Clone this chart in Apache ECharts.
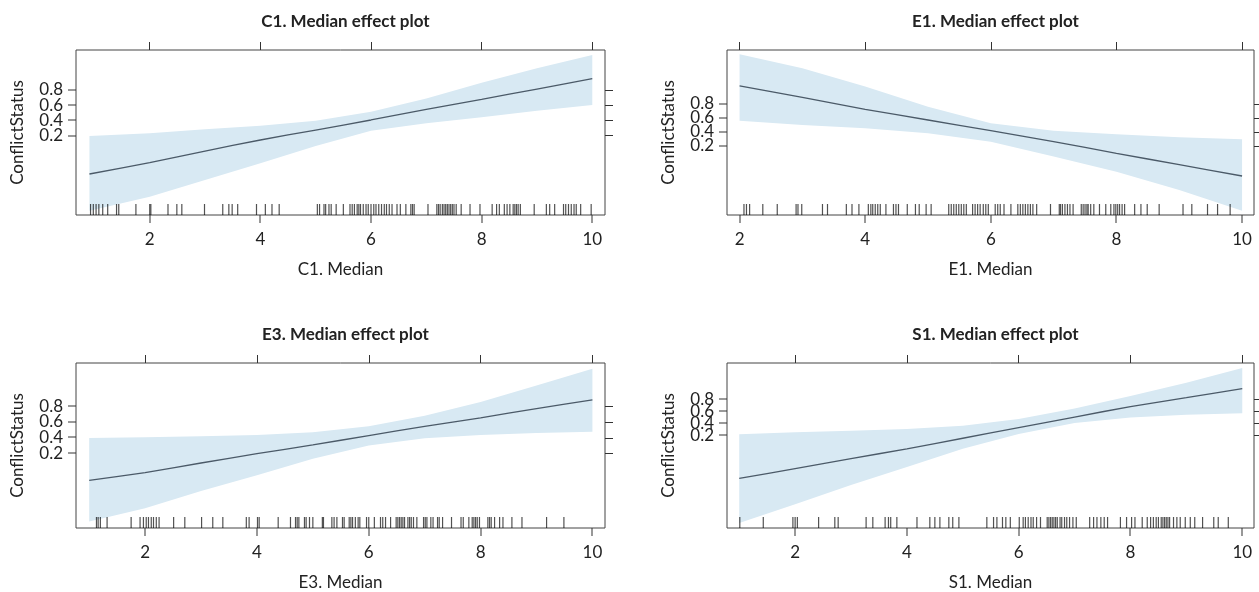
<!DOCTYPE html>
<html>
<head>
<meta charset="utf-8">
<script src="https://cdn.jsdelivr.net/npm/echarts@6/dist/echarts.min.js"></script>
<style>
  html, body { margin: 0; padding: 0; background: #fff; }
  #chart { width: 1259px; height: 592px; }
</style>
</head>
<body>
<div id="chart"></div>
<script>
// tick values shared by all four effect panels
const xTicks = [2, 4, 6, 8, 10];
const yTicks = [0.2, 0.4, 0.6, 0.8];

// C1. Median
const c1X = [0.91, 2, 3, 4, 5, 6, 7, 8, 9, 10];
const c1Fit = [-0.304, -0.155, -0.002, 0.143, 0.274, 0.406, 0.546, 0.677, 0.813, 0.949];
const c1Lower = [-0.786, -0.602, -0.383, -0.164, 0.064, 0.266, 0.362, 0.441, 0.528, 0.603];
const c1Upper = [0.196, 0.231, 0.283, 0.331, 0.397, 0.515, 0.69, 0.896, 1.085, 1.26];
const c1Rug = [0.93, 0.98, 1.03, 1.08, 1.15, 1.24, 1.40, 1.44, 1.75, 2.0, 2.02, 2.33, 2.49, 2.58, 2.99,
  3.32, 3.43, 3.49, 3.59, 3.93, 4.09, 4.21, 4.34, 5.03, 5.07, 5.15, 5.18, 5.24, 5.28, 5.37, 5.5,
  5.62, 5.66, 5.7, 5.75, 5.78, 5.81, 5.86, 5.91, 5.95, 6.0, 6.05, 6.09, 6.14, 6.19, 6.24, 6.28,
  6.33, 6.38, 6.47, 6.53, 6.63, 6.72, 6.75, 6.78, 7.03, 7.19, 7.22, 7.25, 7.29, 7.32, 7.35, 7.38,
  7.41, 7.44, 7.47, 7.5, 7.54, 7.63, 7.79, 7.97, 8.19, 8.27, 8.32, 8.41, 8.46, 8.51, 8.57, 8.6,
  8.63, 8.66, 8.7, 8.95, 9.17, 9.23, 9.32, 9.48, 9.52, 9.57, 9.62, 9.67, 9.71, 9.79, 9.98];

// E1. Median
const e1X = [2, 3, 4, 5, 6, 7, 8, 9, 10];
const e1Fit = [1.057, 0.895, 0.724, 0.571, 0.419, 0.262, 0.095, -0.067, -0.229];
const e1Lower = [0.562, 0.5, 0.452, 0.381, 0.262, 0.048, -0.167, -0.429, -0.724];
const e1Upper = [1.51, 1.31, 1.048, 0.762, 0.524, 0.419, 0.367, 0.324, 0.295];
const e1Rug = [2.07, 2.11, 2.16, 2.37, 2.6, 2.9, 2.93, 2.99, 3.32, 3.4, 3.7, 3.79, 3.9, 4.05, 4.09,
  4.12, 4.16, 4.2, 4.24, 4.33, 4.45, 4.49, 4.53, 4.67, 4.8, 4.86, 4.97, 5.05, 5.33, 5.37, 5.41,
  5.45, 5.49, 5.53, 5.57, 5.61, 5.71, 5.75, 5.79, 5.83, 5.88, 5.92, 5.96, 6.07, 6.11, 6.15, 6.21,
  6.32, 6.43, 6.47, 6.51, 6.55, 6.59, 6.63, 6.67, 6.73, 6.95, 7.09, 7.11, 7.14, 7.18, 7.22, 7.26,
  7.31, 7.44, 7.47, 7.5, 7.53, 7.55, 7.59, 7.64, 7.73, 7.83, 7.91, 7.96, 7.99, 8.02, 8.05, 8.09,
  8.13, 8.29, 8.39, 8.49, 8.68, 9.06, 9.2, 9.45, 9.61, 9.81];

// E3. Median
const e3X = [1.0, 2, 3, 4, 5, 6, 7, 8, 9, 10];
const e3Fit = [-0.148, -0.048, 0.074, 0.192, 0.305, 0.422, 0.54, 0.649, 0.766, 0.876];
const e3Lower = [-0.669, -0.501, -0.283, -0.081, 0.129, 0.296, 0.389, 0.431, 0.456, 0.473];
const e3Upper = [0.393, 0.401, 0.414, 0.431, 0.464, 0.54, 0.674, 0.85, 1.06, 1.274];
const e3Rug = [1.13, 1.16, 1.2, 1.32, 1.75, 1.91, 1.97, 2.02, 2.06, 2.11, 2.15, 2.2, 2.25, 2.51, 2.71,
  3.01, 3.21, 3.39, 3.81, 3.86, 4.01, 4.04, 4.38, 4.6, 4.69, 4.72, 4.75, 4.85, 4.88, 4.94, 5.0,
  5.17, 5.19, 5.34, 5.38, 5.43, 5.53, 5.56, 5.65, 5.68, 5.71, 5.76, 5.81, 5.84, 5.96, 6.0, 6.1,
  6.21, 6.25, 6.3, 6.39, 6.49, 6.52, 6.55, 6.58, 6.61, 6.64, 6.7, 6.73, 6.76, 6.8, 6.86, 6.98,
  7.01, 7.04, 7.11, 7.15, 7.23, 7.26, 7.32, 7.48, 7.65, 7.69, 7.79, 7.85, 7.88, 7.91, 7.94, 7.98,
  8.13, 8.16, 8.19, 8.25, 8.34, 8.4, 8.56, 8.74, 9.18, 9.49];

// S1. Median
const s1X = [1.0, 2, 3, 4, 5, 6, 7, 8, 9, 10];
const s1Fit = [-0.533, -0.367, -0.2, -0.033, 0.144, 0.322, 0.5, 0.678, 0.828, 0.978];
const s1Lower = [-1.283, -0.967, -0.644, -0.339, -0.033, 0.217, 0.4, 0.494, 0.539, 0.567];
const s1Upper = [0.211, 0.244, 0.272, 0.3, 0.356, 0.467, 0.644, 0.856, 1.078, 1.328];
const s1Rug = [1.01, 1.43, 1.96, 2.0, 2.04, 2.42, 2.71, 2.77, 3.27, 3.39, 3.61, 3.67, 3.71, 3.82, 4.18,
  4.41, 4.5, 4.59, 4.75, 4.82, 4.93, 5.43, 5.55, 5.61, 5.71, 5.77, 5.85, 6.01, 6.08, 6.12, 6.17,
  6.22, 6.26, 6.32, 6.39, 6.51, 6.54, 6.57, 6.6, 6.63, 6.66, 6.69, 6.74, 6.77, 6.82, 6.86, 6.91,
  6.97, 7.03, 7.27, 7.34, 7.4, 7.47, 7.53, 7.59, 7.82, 7.93, 8.02, 8.08, 8.21, 8.3, 8.36, 8.41,
  8.46, 8.5, 8.55, 8.58, 8.61, 8.64, 8.67, 8.7, 8.77, 8.83, 8.89, 8.98, 9.07, 9.15, 9.29, 9.49,
  9.57, 9.75];

const panels = [
  { title: 'C1. Median effect plot', xName: 'C1. Median', x: c1X, fit: c1Fit, lower: c1Lower, upper: c1Upper, rug: c1Rug,
    box: { left: 76, top: 50, width: 529, height: 165 }, xRange: [0.667, 10.23], yRange: [-0.843, 1.326] },
  { title: 'E1. Median effect plot', xName: 'E1. Median', x: e1X, fit: e1Fit, lower: e1Lower, upper: e1Upper, rug: e1Rug,
    box: { left: 727, top: 50, width: 527, height: 165 }, xRange: [1.8, 10.19], yRange: [-0.786, 1.571] },
  { title: 'E3. Median effect plot', xName: 'E3. Median', x: e3X, fit: e3Fit, lower: e3Lower, upper: e3Upper, rug: e3Rug,
    box: { left: 76, top: 363, width: 529, height: 166 }, xRange: [0.764, 10.225], yRange: [-0.753, 1.346] },
  { title: 'S1. Median effect plot', xName: 'S1. Median', x: s1X, fit: s1Fit, lower: s1Lower, upper: s1Upper, rug: s1Rug,
    box: { left: 727, top: 363, width: 527, height: 166 }, xRange: [0.781, 10.21], yRange: [-1.367, 1.411] }
];

const FONT = 'Lato';
const textColor = '#222';
const TICK = 8;
const tickColor = '#333';
const tickStyle = { color: tickColor, width: 1 };
const label17 = { fontFamily: FONT, fontSize: 17, color: textColor };

const grids = [], xAxes = [], yAxes = [], series = [], titles = [];
const mainGrids = [];

// every grid gets exactly one x and one y axis
function addGrid(rect, show, xOpt, yOpt, xRange, yRange) {
  const g = grids.length;
  grids.push(Object.assign({ show: show, borderColor: '#444', borderWidth: 1, containLabel: false }, rect));
  const base = () => ({ gridIndex: g, type: 'value', axisLine: { show: false, onZero: false },
    splitLine: { show: false }, axisTick: { show: false }, axisLabel: { show: false } });
  xAxes.push(Object.assign(base(), { min: xRange[0], max: xRange[1] }, xOpt));
  yAxes.push(Object.assign(base(), { min: yRange[0], max: yRange[1] }, yOpt));
  return g;
}
const ticks = vals => ({ show: true, length: TICK, customValues: vals, lineStyle: tickStyle });

panels.forEach(p => {
  const b = p.box;
  titles.push({
    text: p.title,
    left: b.left + b.width / 2,
    top: b.top - 42,
    textAlign: 'center',
    textStyle: Object.assign({}, label17, { fontWeight: 'bold' })
  });

  // main panel: data, bottom labels + name, y name
  const g = addGrid(b, true,
    { position: 'bottom',
      axisLabel: Object.assign({ customValues: xTicks, margin: 16 }, label17),
      name: p.xName, nameLocation: 'middle', nameGap: 46, nameTextStyle: label17 },
    { position: 'left',
      name: 'ConflictStatus', nameLocation: 'middle', nameRotate: 90, nameGap: 50, nameTextStyle: label17 },
    p.xRange, p.yRange);
  mainGrids.push(g);
  // top and right tick marks on the same box
  addGrid(b, false, { position: 'top', axisTick: ticks(xTicks) },
    { position: 'right', axisTick: ticks(yTicks) }, p.xRange, p.yRange);
  // one y label per grid so none of them gets dropped as overlapping
  yTicks.forEach(t => {
    addGrid(b, false, { show: false },
      { position: 'left',
        axisLabel: Object.assign({ show: true, customValues: [t], margin: 13,
          formatter: v => v.toFixed(1) }, label17) },
      p.xRange, p.yRange);
  });

  const axisRef = { xAxisIndex: g, yAxisIndex: g };

  // confidence band as one polygon: upper edge then lower edge backwards
  series.push(Object.assign({
    type: 'custom', silent: true, z: 1,
    data: [0],
    renderItem: (params, api) => {
      const pts = p.x.map((x, k) => api.coord([x, p.upper[k]]));
      for (let k = p.x.length - 1; k >= 0; k--) pts.push(api.coord([p.x[k], p.lower[k]]));
      return { type: 'polygon', shape: { points: pts }, style: { fill: 'rgb(216,233,243)' } };
    }
  }, axisRef));
  // fitted line
  series.push(Object.assign({
    type: 'line', smooth: 0.2,
    data: p.x.map((x, k) => [x, p.fit[k]]),
    showSymbol: false, silent: true, lineStyle: { color: '#4b5a68', width: 1.3 }, z: 3
  }, axisRef));
  // rug
  series.push(Object.assign({
    type: 'scatter',
    data: p.rug.map(v => [v, p.yRange[0]]),
    symbol: 'rect', symbolSize: [1.2, 11], symbolOffset: [0, -5.5],
    silent: true, itemStyle: { color: 'rgba(0,0,0,0.85)' }, z: 4
  }, axisRef));
});

const chart = echarts.init(document.getElementById('chart'));
chart.setOption({
  animation: false,
  backgroundColor: '#fff',
  title: titles,
  grid: grids,
  xAxis: xAxes,
  yAxis: yAxes,
  series: series
});

// bottom and left outer ticks: thin filled rects on their own top layer,
// positioned with the panel's own scales
const tickRects = [];
panels.forEach((p, i) => {
  const finder = { xAxisIndex: mainGrids[i], yAxisIndex: mainGrids[i] };
  xTicks.forEach(v => {
    const pt = chart.convertToPixel(finder, [v, p.yRange[0]]);
    if (!pt) return;
    tickRects.push({ type: 'rect', zlevel: 1, z: 100, silent: true,
      shape: { x: Math.round(pt[0]) - 0.5, y: Math.round(pt[1]), width: 1, height: TICK },
      style: { fill: tickColor } });
  });
  yTicks.forEach(v => {
    const pt = chart.convertToPixel(finder, [p.xRange[0], v]);
    if (!pt) return;
    tickRects.push({ type: 'rect', zlevel: 1, z: 100, silent: true,
      shape: { x: Math.round(pt[0]) - TICK, y: Math.round(pt[1]) - 0.5, width: TICK, height: 1 },
      style: { fill: tickColor } });
  });
});
chart.setOption({ graphic: { elements: tickRects } });
</script>
</body>
</html>
